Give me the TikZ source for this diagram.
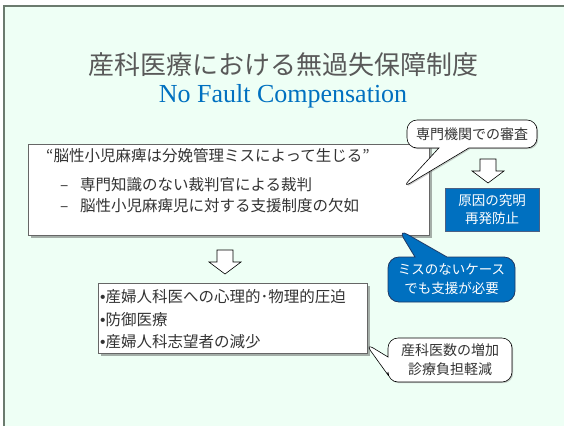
\documentclass[tikz,border=0pt]{standalone}
\usepackage{fontspec}
\setmainfont{Liberation Serif}
\newfontfamily\jp{Noto Sans CJK JP}
\newfontfamily\ls{Liberation Sans}
\usetikzlibrary{shapes.callouts,shadows}
\definecolor{bgmint}{HTML}{EEFFF5}
\definecolor{framec}{HTML}{6B7B6E}
\definecolor{titlegray}{HTML}{595959}
\definecolor{blueA}{HTML}{0070C0}
\definecolor{navyA}{HTML}{1F3864}
\definecolor{txt}{HTML}{333333}
\begin{document}
\begin{tikzpicture}[x=1pt,y=-1pt,
  boxstyle/.style={draw=gray!80!black, fill=white, line width=0.6pt, inner sep=0pt,
    drop shadow={shadow xshift=2.5pt, shadow yshift=-2.5pt, opacity=0.45, fill=black!70}},
  linetext/.style={anchor=west, inner sep=0pt, text=txt, font=\jp\fontsize{15.5}{18}\selectfont},
  wcallout/.style={rectangle callout, draw=black, line width=0.6pt, fill=white, rounded corners=10pt,
    inner sep=0pt, align=center, callout pointer width=30pt, text=txt,
    font=\jp\fontsize{14}{19}\selectfont,
    drop shadow={shadow xshift=1.2pt, shadow yshift=-1.2pt, opacity=0.4}},
  bcallout/.style={rectangle callout, draw=navyA, line width=0.8pt, fill=blueA, rounded corners=11pt,
    inner sep=0pt, align=center, callout pointer width=32pt, text=white,
    font=\jp\fontsize{13.5}{19}\selectfont},
  downarrow/.pic={
    \draw[line width=0.6pt, fill=white, line join=miter]
      (-8,0) -- (8,0) -- (8,12) -- (16,12) -- (0,24) -- (-16,12) -- (-8,12) -- cycle;}
]
\useasboundingbox (0,0) rectangle (564,426);
\fill[white] (0,0) rectangle (564,426);
\fill[bgmint] (4,6) rectangle (564,426);
\draw[framec, line width=2.2pt] (4,426) -- (4,6) -- (564,6);

% title
\node[text=titlegray, font=\jp\fontsize{26}{30}\selectfont, inner sep=0pt] (title) at (283,65) {産科医療における無過失保障制度};
\node[text=blueA, font=\fontsize{26}{30}\selectfont, inner sep=0pt] (sub) at (283,96) {No Fault Compensation};

% main box
\node[boxstyle, minimum width=401pt, minimum height=91pt] (main) at (228.5,189.5) {};
\node[linetext] (m1) at (46,156) {“脳性小児麻痺は分娩管理ミスによって生じる”};
\node[linetext] (m2) at (60,185) {\makebox[20pt][l]{–}専門知識のない裁判官による裁判};
\node[linetext] (m3) at (60,206) {\makebox[20pt][l]{–}脳性小児麻痺児に対する支援制度の欠如};

% callout 1
\coordinate (p1) at (402,188);
\node[wcallout, callout absolute pointer={(p1)}, minimum width=130pt, minimum height=28pt] (c1) at (472,134) {専門機関での審査};

% arrow 1 and blue box
\pic at (488,159) {downarrow};
\node[draw=navyA!80, line width=0.8pt, fill=blueA, text=white, inner sep=0pt, align=center,
  minimum width=94pt, minimum height=43pt, font=\jp\fontsize{13.5}{18}\selectfont] (cause) at (492,209.5) {原因の究明\\再発防止};

% blue callout
\coordinate (p2) at (398,229);
\node[bcallout, callout absolute pointer={(p2)}, minimum width=127pt, minimum height=45pt] (c2) at (451.5,279.5) {ミスのないケース\\でも支援が必要};

% arrow 2
\pic at (225,250) {downarrow};

% box 2
\node[boxstyle, minimum width=269pt, minimum height=70pt] (box2) at (232.5,318) {};
\node[linetext] (b1) at (100,297) {{\ls •}産婦人科医への心理的･物理的圧迫};
\node[linetext] (b2) at (100,320) {{\ls •}防御医療};
\node[linetext] (b3) at (100,342) {{\ls •}産婦人科志望者の減少};

% callout 3
\coordinate (p3) at (365,343);
\node[wcallout, callout absolute pointer={(p3)}, minimum width=124pt, minimum height=44pt, callout pointer width=18pt] (c3) at (450,360) {産科医数の増加\\診療負担軽減};
\end{tikzpicture}
\end{document}
